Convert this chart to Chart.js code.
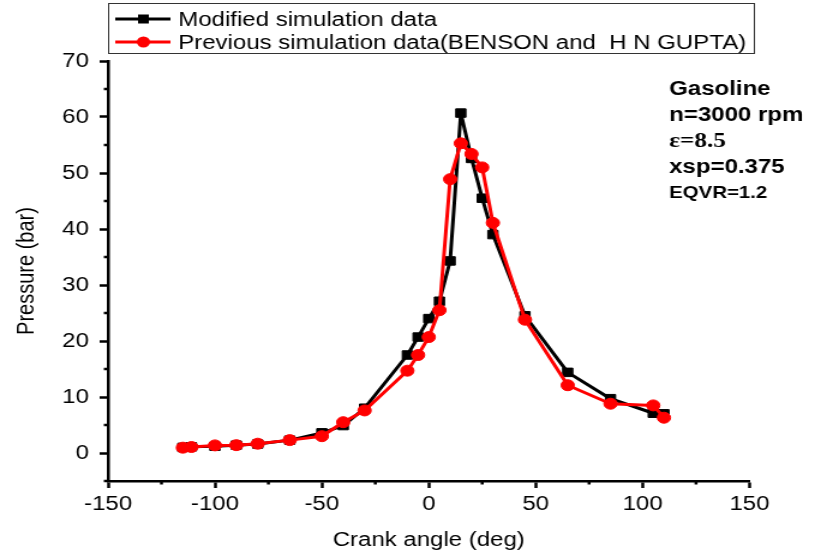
<!DOCTYPE html>
<html>
<head>
  <meta charset="UTF-8">
  <title>Pressure vs crank angle</title>
  <script src="https://cdn.jsdelivr.net/npm/chart.js"></script>
  <style>
    body { margin: 0; background: #fff; }
    /* the reference figure is stretched sideways, so the canvas is too */
    #grafico { display: block; transform: scaleX(1.2003); transform-origin: 0 0; }
  </style>
</head>
<body>
  <canvas id="grafico" width="679" height="555"></canvas>

  <script>
    // crank angle (deg)
    const angulos = [-115, -111, -100, -90, -80, -65, -50, -40, -30, -10, -5, 0, 5, 10, 15, 20, 25, 30, 45, 65, 85, 105, 110];
    // pressure (bar)
    const presionModificada = [1.0, 1.1, 1.2, 1.4, 1.6, 2.3, 3.6, 4.9, 8.0, 17.5, 20.7, 24.0, 27.1, 34.3, 60.7, 52.6, 45.5, 39.0, 24.5, 14.4, 9.7, 7.1, 7.0];
    const presionAnterior = [0.95, 1.07, 1.36, 1.4, 1.66, 2.3, 3.0, 5.5, 7.6, 14.7, 17.5, 20.7, 25.5, 48.9, 55.3, 53.4, 51.0, 41.1, 23.8, 12.1, 8.8, 8.5, 6.3];

    const etiquetasSerie = ['Modified simulation data', 'Previous simulation data(BENSON and  H N GUPTA)'];
    const notas = ['Gasoline', 'n=3000 rpm', 'ε=8.5', 'xsp=0.375', 'EQVR=1.2'];

    const ticksMenoresX = [-125, -75, -25, 25, 75, 125];
    const ticksMenoresY = [-5, 5, 15, 25, 35, 45, 55, 65];

    const fuente = '"Liberation Sans", Arial, sans-serif';
    Chart.defaults.font.family = fuente;
    Chart.defaults.color = '#000';

    const puntos = (xs, ys) => xs.map((x, i) => ({ x: x, y: ys[i] }));

    // minor ticks, legend box and the text block on the right
    const extras = {
      id: 'extras',
      afterDraw(chart) {
        const ctx = chart.ctx;
        const sx = chart.scales.x, sy = chart.scales.y;
        const area = chart.chartArea;
        ctx.save();
        ctx.strokeStyle = '#000';
        ctx.lineWidth = 2.5;
        ticksMenoresX.forEach(v => {
          const px = sx.getPixelForValue(v);
          ctx.beginPath(); ctx.moveTo(px, area.bottom); ctx.lineTo(px, area.bottom + 3.5); ctx.stroke();
        });
        ticksMenoresY.forEach(v => {
          const py = sy.getPixelForValue(v);
          ctx.beginPath(); ctx.moveTo(area.left, py); ctx.lineTo(area.left - 3.5, py); ctx.stroke();
        });

        // legend
        ctx.lineWidth = 1;
        ctx.strokeStyle = '#333';
        ctx.strokeRect(90.5, 3.5, 538, 50);
        const filas = [19, 42];
        chart.data.datasets.forEach((ds, i) => {
          const y = filas[i];
          ctx.strokeStyle = ds.borderColor;
          ctx.lineWidth = 3;
          ctx.beginPath(); ctx.moveTo(96, y); ctx.lineTo(142, y); ctx.stroke();
          ctx.fillStyle = ds.backgroundColor;
          if (ds.pointStyle === 'rect') {
            ctx.fillRect(115, y - 4.5, 9, 9);
          } else {
            ctx.beginPath(); ctx.arc(119.5, y, 5.5, 0, Math.PI * 2); ctx.fill();
          }
          ctx.fillStyle = '#000';
          ctx.font = '20px ' + fuente;
          ctx.textBaseline = 'middle';
          ctx.fillText(ds.label, 148.5, y + 1);
        });

        // notes
        ctx.fillStyle = '#000';
        ctx.textBaseline = 'alphabetic';
        const lineas = [95, 121, 147, 173, 198];
        const fuentes = ['bold 20px ' + fuente, 'bold 20px ' + fuente, 'bold 21px "Liberation Serif", serif',
                         'bold 20px ' + fuente, 'bold 17px ' + fuente];
        notas.forEach((t, i) => {
          ctx.font = fuentes[i];
          ctx.fillText(t, 557.5, lineas[i]);
        });
        ctx.restore();
      }
    };

    const ejeComun = {
      border: { display: true, color: '#000', width: 2.5 },
      grid: { drawOnChartArea: false, drawTicks: true, tickLength: 7, tickWidth: 2.5, tickColor: '#000', color: '#000' }
    };

    new Chart(document.getElementById('grafico'), {
      type: 'scatter',
      data: {
        datasets: [
          {
            label: etiquetasSerie[0],
            data: puntos(angulos, presionModificada),
            showLine: true,
            borderColor: '#000',
            backgroundColor: '#000',
            borderWidth: 3,
            borderJoinStyle: 'bevel',
            pointStyle: 'rect',
            pointRadius: 6,
            pointBorderWidth: 1,
            order: 2
          },
          {
            label: etiquetasSerie[1],
            data: puntos(angulos, presionAnterior),
            showLine: true,
            borderColor: '#ff0000',
            backgroundColor: '#ff0000',
            borderWidth: 3,
            borderJoinStyle: 'round',
            pointStyle: 'circle',
            pointRadius: 5.5,
            pointBorderWidth: 1,
            order: 1
          }
        ]
      },
      options: {
        responsive: false,
        animation: false,
        devicePixelRatio: 1,
        layout: { padding: { top: 61, right: 54.6, bottom: 0, left: 0 } },
        plugins: { legend: { display: false }, tooltip: { enabled: false } },
        scales: {
          x: {
            ...ejeComun,
            type: 'linear',
            min: -150,
            max: 150,
            ticks: { stepSize: 50, padding: 4, font: { size: 20 } },
            title: { display: true, text: 'Crank angle (deg)', font: { size: 20 }, padding: { top: 0, bottom: 3 } },
            afterFit: (scale) => { scale.height = 74; }
          },
          y: {
            ...ejeComun,
            min: -5,
            max: 70,
            ticks: { stepSize: 10, padding: 9, font: { size: 20 } },
            afterBuildTicks: (scale) => { scale.ticks = scale.ticks.filter(t => t.value % 10 === 0); },
            title: { display: true, text: 'Pressure (bar)', font: { size: 20 }, padding: { top: 10, bottom: 0 } },
            afterFit: (scale) => { scale.width = 90; }
          }
        }
      },
      plugins: [extras]
    });
  </script>
</body>
</html>
